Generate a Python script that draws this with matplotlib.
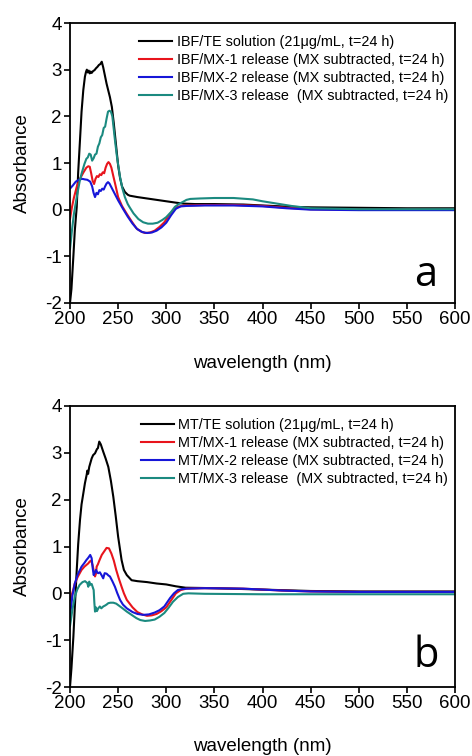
import matplotlib
matplotlib.use("Agg")
import matplotlib.pyplot as plt

plt.rcParams['font.family'] = ['Liberation Sans', 'DejaVu Sans']
plt.rcParams['axes.unicode_minus'] = False

# ---------------- Panel a (IBF) ----------------
wl_ibf_te = [200, 201.5, 203.5, 205, 207, 208.5, 210.4, 212, 213.8, 215.5, 216.6, 217.5, 218.5, 219.5, 220.5, 221.5, 222.5, 224, 225.5, 227, 228.5, 230, 231.5, 233, 234.5, 236, 238, 239.8, 241.5, 243.5, 245.5, 247.5, 250, 252, 254, 257, 260, 262, 270, 280, 290, 300, 310, 318, 330, 350, 380, 400, 430, 450, 500, 550, 600]
abs_ibf_te = [-2.0, -1.7, -1.0, -0.45, 0.06, 0.8, 1.5, 2.1, 2.56, 2.85, 2.95, 3.0, 2.94, 2.98, 2.92, 2.96, 2.93, 2.97, 2.99, 3.03, 3.06, 3.1, 3.12, 3.17, 3.05, 2.9, 2.7, 2.55, 2.41, 2.2, 1.85, 1.45, 0.95, 0.68, 0.5, 0.38, 0.32, 0.3, 0.27, 0.24, 0.21, 0.18, 0.15, 0.13, 0.12, 0.12, 0.11, 0.09, 0.06, 0.05, 0.04, 0.03, 0.03]

wl_ibf_mx1 = [200, 202, 204, 207, 210, 214, 217, 219, 220.5, 222, 223.5, 225, 226.5, 228, 229.5, 231, 232.5, 234, 235.5, 237, 238.5, 240, 241.5, 243, 245, 247.5, 250, 254, 259, 264, 269, 274, 278, 283, 288, 293, 298, 304, 308, 312, 316, 321, 340, 370, 400, 425, 450, 500, 600]
abs_ibf_mx1 = [-0.2, 0.05, 0.25, 0.49, 0.65, 0.8, 0.9, 0.93, 0.92, 0.78, 0.62, 0.55, 0.66, 0.72, 0.7, 0.76, 0.74, 0.8, 0.78, 0.9, 0.98, 1.02, 0.98, 0.9, 0.72, 0.5, 0.27, 0.08, -0.09, -0.25, -0.4, -0.47, -0.5, -0.49, -0.45, -0.37, -0.27, -0.09, 0.0, 0.06, 0.08, 0.09, 0.1, 0.1, 0.08, 0.04, 0.01, 0.0, 0.0]

wl_ibf_mx2 = [200, 203, 206, 210, 213, 215, 218, 221, 223, 224.5, 226, 227.5, 229, 230.5, 232, 233.5, 235, 236.5, 238, 239.5, 241, 242.5, 245, 247.5, 250, 255, 260, 265, 270, 275, 280, 285, 290, 295, 300, 305, 310, 315, 321, 340, 370, 400, 425, 450, 500, 600]
abs_ibf_mx2 = [0.45, 0.52, 0.6, 0.65, 0.66, 0.65, 0.64, 0.6, 0.5, 0.36, 0.27, 0.36, 0.33, 0.42, 0.4, 0.45, 0.43, 0.5, 0.56, 0.59, 0.56, 0.5, 0.4, 0.3, 0.2, 0.02, -0.15, -0.3, -0.42, -0.48, -0.5, -0.49, -0.45, -0.38, -0.28, -0.12, 0.02, 0.07, 0.08, 0.09, 0.09, 0.07, 0.03, 0.0, -0.01, -0.01]

wl_ibf_mx3 = [200, 202, 204, 207, 210, 212, 215, 217, 218.5, 220, 221.5, 223, 224.5, 226, 227.5, 229, 230.5, 232, 233.5, 235, 236.5, 238, 239.5, 241, 242.5, 244, 246.7, 249, 252, 254.5, 257, 260, 262, 266, 271, 276, 281, 286, 291, 296, 300, 305, 309, 313, 317.6, 321, 325, 335, 350, 370, 390, 400, 415, 430, 450, 500, 600]
abs_ibf_mx3 = [-0.85, -0.45, -0.1, 0.27, 0.6, 0.77, 0.98, 1.09, 1.12, 1.2, 1.18, 1.05, 1.1, 1.18, 1.2, 1.35, 1.42, 1.55, 1.6, 1.75, 1.78, 1.95, 2.1, 2.12, 2.1, 2.0, 1.49, 1.1, 0.7, 0.45, 0.27, 0.12, 0.05, -0.08, -0.2, -0.27, -0.3, -0.3, -0.28, -0.22, -0.16, -0.05, 0.06, 0.12, 0.17, 0.21, 0.23, 0.24, 0.25, 0.25, 0.22, 0.18, 0.13, 0.08, 0.03, 0.01, 0.01]

# ---------------- Panel b (MT) ----------------
wl_mt_te = [200, 201.5, 203.5, 205, 207, 208.5, 210.4, 212, 213.8, 215.5, 217.3, 218, 218.8, 220, 222.5, 224, 226, 228, 229, 230.4, 232, 234.6, 237, 239.8, 242.5, 245, 247.5, 250, 253.6, 256, 259, 264, 270, 280, 290, 300, 310, 320, 350, 400, 450, 500, 550, 600]
abs_mt_te = [-2.0, -1.6, -0.93, -0.3, 0.5, 1.05, 1.57, 1.9, 2.13, 2.35, 2.53, 2.62, 2.55, 2.7, 2.88, 2.95, 2.99, 3.08, 3.1, 3.24, 3.18, 3.02, 2.88, 2.7, 2.4, 2.06, 1.65, 1.21, 0.71, 0.5, 0.39, 0.28, 0.26, 0.24, 0.21, 0.19, 0.15, 0.12, 0.11, 0.08, 0.05, 0.04, 0.04, 0.04]

wl_mt_mx1 = [200, 203, 205, 208, 212, 215, 219, 220.5, 222, 223.5, 225, 226, 227, 227.7, 229, 230.5, 233, 235, 238, 240.5, 243, 245.5, 248, 250.5, 253.6, 256, 259, 265, 270, 275, 280, 285, 290, 295, 300, 305, 310, 315, 321, 340, 380, 420, 450, 500, 600]
abs_mt_mx1 = [-0.15, 0.05, 0.21, 0.35, 0.5, 0.57, 0.64, 0.68, 0.7, 0.6, 0.45, 0.36, 0.42, 0.57, 0.62, 0.7, 0.82, 0.88, 0.97, 0.96, 0.85, 0.7, 0.5, 0.33, 0.14, 0.0, -0.14, -0.3, -0.4, -0.45, -0.48, -0.47, -0.44, -0.38, -0.3, -0.15, 0.0, 0.07, 0.1, 0.11, 0.1, 0.06, 0.04, 0.03, 0.03]

wl_mt_mx2 = [200, 202.5, 205, 208, 212, 215, 217, 219, 221, 222.5, 223.5, 224.6, 226, 227, 228.5, 229.4, 231, 233, 234.5, 236, 238, 240, 241.5, 244, 246.7, 249, 252, 255, 259, 265, 270, 276, 282, 288, 293, 298, 304, 308, 312, 316, 321, 340, 380, 420, 450, 500, 600]
abs_mt_mx2 = [-0.5, -0.05, 0.21, 0.4, 0.57, 0.65, 0.71, 0.76, 0.82, 0.75, 0.55, 0.39, 0.45, 0.5, 0.44, 0.43, 0.45, 0.38, 0.32, 0.43, 0.42, 0.38, 0.36, 0.26, 0.14, 0.01, -0.14, -0.24, -0.32, -0.4, -0.44, -0.46, -0.45, -0.41, -0.36, -0.28, -0.1, 0.0, 0.07, 0.09, 0.1, 0.11, 0.1, 0.06, 0.04, 0.03, 0.03]

wl_mt_mx3 = [200, 202.5, 205, 207.5, 210, 213, 215.6, 218, 219, 220, 221, 222.5, 224.6, 225.3, 226, 227, 228, 229.4, 231, 232.5, 234.6, 236.5, 238, 239.8, 242, 245, 248, 250, 254, 259, 264, 269, 273, 278, 283, 288, 293, 298, 302, 307, 312, 317.6, 323, 340, 400, 450, 500, 600]
abs_mt_mx3 = [-0.7, -0.35, -0.07, 0.08, 0.18, 0.24, 0.26, 0.22, 0.14, 0.25, 0.18, 0.2, 0.07, -0.2, -0.39, -0.3, -0.38, -0.32, -0.28, -0.32, -0.28, -0.26, -0.24, -0.21, -0.2, -0.2, -0.22, -0.25, -0.31, -0.39, -0.46, -0.53, -0.57, -0.59, -0.58, -0.56, -0.5, -0.42, -0.32, -0.18, -0.08, -0.01, 0.0, -0.01, -0.02, -0.02, -0.02, -0.02]

labels_a = ["IBF/TE solution (21\u03bcg/mL, t=24 h)",
            "IBF/MX-1 release (MX subtracted, t=24 h)",
            "IBF/MX-2 release (MX subtracted, t=24 h)",
            "IBF/MX-3 release  (MX subtracted, t=24 h)"]
labels_b = ["MT/TE solution (21\u03bcg/mL, t=24 h)",
            "MT/MX-1 release (MX subtracted, t=24 h)",
            "MT/MX-2 release (MX subtracted, t=24 h)",
            "MT/MX-3 release  (MX subtracted, t=24 h)"]

colors = ["#000000", "#e8141c", "#1616d8", "#1b8a80"]
xticks = [200, 250, 300, 350, 400, 450, 500, 550, 600]
yticks = [-2, -1, 0, 1, 2, 3, 4]

W, H = 472, 756
fig = plt.figure(figsize=(W / 100, H / 100), dpi=100)

def px_axes(left, top, right, bottom):
    return fig.add_axes([left / W, 1 - bottom / H, (right - left) / W, (bottom - top) / H])

ax_a = px_axes(70, 23, 455, 303)
ax_b = px_axes(70, 406, 455, 687)

series_a = [(wl_ibf_te, abs_ibf_te), (wl_ibf_mx1, abs_ibf_mx1), (wl_ibf_mx2, abs_ibf_mx2), (wl_ibf_mx3, abs_ibf_mx3)]
series_b = [(wl_mt_te, abs_mt_te), (wl_mt_mx1, abs_mt_mx1), (wl_mt_mx2, abs_mt_mx2), (wl_mt_mx3, abs_mt_mx3)]

for ax, series, labels, letter, xl_off, ly in [(ax_a, series_a, labels_a, "a", -52 / 280, 0.1),
                                               (ax_b, series_b, labels_b, "b", -51 / 281, 0.11)]:
    for (x, y), c, lab in zip(series, colors, labels):
        ax.plot(x, y, color=c, lw=1.5, label=lab)
    ax.set_xlim(200, 600)
    ax.set_ylim(-2, 4)
    ax.set_xticks(xticks)
    ax.set_yticks(yticks)
    ax.tick_params(direction='out', length=4, width=1.2, labelsize=13.5, pad=2,
                   top=False, right=False)
    for s in ax.spines.values():
        s.set_linewidth(1.3)
    ax.set_ylabel("Absorbance", fontsize=13.5)
    ax.set_xlabel("wavelength (nm)", fontsize=13.5)
    ax.yaxis.set_label_coords(-39 / 385, 0.5)
    ax.xaxis.set_label_coords(0.5, xl_off)
    ax.legend(loc='upper right', bbox_to_anchor=(1 - 7 / 385, 1 - 12 / 280), frameon=False,
              fontsize=10.4, handlelength=2.3, handletextpad=0.3,
              labelspacing=0.27, borderaxespad=0, borderpad=0)
    ax.text(0.925, ly, letter, transform=ax.transAxes, fontsize=30,
            family='Open Sans', ha='center', va='center')

fig.savefig("out.png", dpi=100)
